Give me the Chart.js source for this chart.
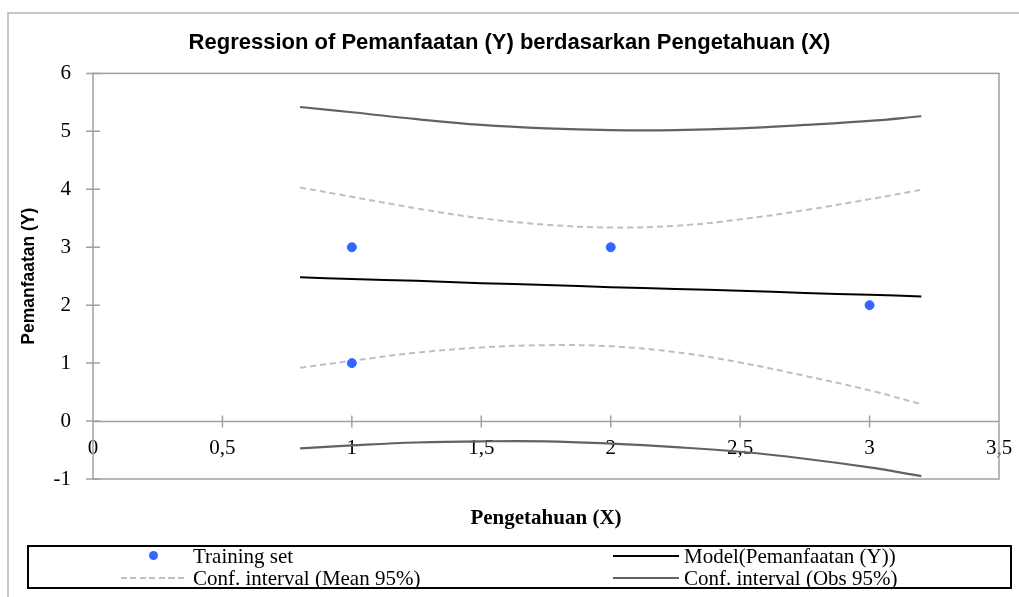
<!DOCTYPE html>
<html>
<head>
<meta charset="utf-8">
<script src="https://cdn.jsdelivr.net/npm/chart.js@4/dist/chart.umd.min.js"></script>
<style>
  body { margin: 0; background: #fff; }
  #wrap { position: relative; width: 1019px; height: 597px; overflow: hidden; }
  #frame { position: absolute; left: 7px; top: 12px; width: 1100px; height: 700px;
    border-left: 2px solid #c8c8c8; border-top: 2px solid #c8c8c8; }
  #legend { position: absolute; left: 27px; top: 545px; width: 981px; height: 40px;
    border: 2px solid #000; font-family: "Liberation Serif", serif; font-size: 21px; color: #000; }
  .item { position: absolute; height: 22px; line-height: 22px; white-space: nowrap; }
  .sym { position: absolute; width: 66px; height: 22px; }
</style>
</head>
<body>
<div id="wrap">
  <div id="frame"></div>
  <canvas id="canRegression"></canvas>
  <div id="legend"></div>
</div>
<script>
const trainX = [1, 1, 2, 3]
const trainY = [3, 1, 3, 2]

const curveX = [0.8, 1, 1.25, 1.5, 1.75, 2, 2.25, 2.5, 2.75, 3, 3.2]
const model = [2.48, 2.45, 2.42, 2.38, 2.35, 2.31, 2.28, 2.25, 2.21, 2.18, 2.15]
const meanHi = [4.03, 3.87, 3.67, 3.5, 3.39, 3.34, 3.37, 3.48, 3.64, 3.83, 3.99]
const meanLo = [0.92, 1.04, 1.18, 1.27, 1.31, 1.29, 1.19, 1.01, 0.78, 0.53, 0.29]
const obsHi = [5.42, 5.33, 5.21, 5.11, 5.05, 5.02, 5.02, 5.05, 5.11, 5.18, 5.26]
const obsLo = [-0.47, -0.42, -0.37, -0.35, -0.35, -0.39, -0.45, -0.53, -0.65, -0.8, -0.95]

const xTicks = [0, 0.5, 1, 1.5, 2, 2.5, 3, 3.5]
const yTicks = [-1, 0, 1, 2, 3, 4, 5, 6]

const pts = (xs, ys) => xs.map((x, i) => ({ x: x, y: ys[i] }))

const blue = '#3366ff'
const meanGrey = '#bfbfbf'
const obsGrey = '#626262'
const axisGrey = '#a0a0a0'

// plot box, zero line and crossing tick marks
const framePlugin = {
  id: 'frame',
  beforeDatasetsDraw (chart) {
    const { ctx, chartArea: a, scales } = chart
    const y0 = Math.round(scales.y.getPixelForValue(0)) + 0.5
    ctx.save()
    ctx.strokeStyle = axisGrey
    ctx.lineWidth = 1.5
    ctx.strokeRect(a.left, a.top, a.right - a.left, a.bottom - a.top)
    ctx.beginPath()
    ctx.moveTo(a.left, y0)
    ctx.lineTo(a.right, y0)
    yTicks.forEach(v => {
      const p = scales.y.getPixelForValue(v)
      ctx.moveTo(a.left - 7, p)
      ctx.lineTo(a.left + 7, p)
    })
    xTicks.forEach(v => {
      if (v === 0 || v === 3.5) return
      const p = scales.x.getPixelForValue(v)
      ctx.moveTo(p, y0 - 6)
      ctx.lineTo(p, y0 + 6)
    })
    ctx.stroke()
    ctx.restore()
  }
}

const cReg = document.getElementById('canRegression')

const chart = new Chart(cReg, {
  type: 'scatter',
  data: {
    datasets: [
      {
        label: 'Training set',
        data: pts(trainX, trainY),
        backgroundColor: blue,
        borderColor: blue,
        pointRadius: 4.5,
        order: 0
      },
      {
        label: 'Model(Pemanfaatan (Y))',
        data: pts(curveX, model),
        showLine: true,
        borderColor: '#000',
        borderWidth: 2,
        pointRadius: 0
      },
      {
        label: 'Conf. interval (Mean 95%)',
        data: pts(curveX, meanHi),
        showLine: true,
        borderColor: meanGrey,
        borderWidth: 2,
        borderDash: [6, 4],
        pointRadius: 0
      },
      {
        label: 'Conf. interval (Mean 95%)',
        data: pts(curveX, meanLo),
        showLine: true,
        borderColor: meanGrey,
        borderWidth: 2,
        borderDash: [6, 4],
        pointRadius: 0,
        hideInLegend: true
      },
      {
        label: 'Conf. interval (Obs 95%)',
        data: pts(curveX, obsHi),
        showLine: true,
        borderColor: obsGrey,
        borderWidth: 2.2,
        pointRadius: 0
      },
      {
        label: 'Conf. interval (Obs 95%)',
        data: pts(curveX, obsLo),
        showLine: true,
        borderColor: obsGrey,
        borderWidth: 2.2,
        pointRadius: 0,
        hideInLegend: true
      }
    ]
  },
  options: {
    responsive: true,
    maintainAspectRatio: false,
    animation: false,
    layout: { padding: 0 },
    elements: { line: { tension: 0.4 } },
    plugins: {
      legend: { display: false },
      tooltip: { enabled: false },
      title: {
        display: true,
        text: 'Regression of Pemanfaatan (Y) berdasarkan Pengetahuan (X)',
        color: '#000',
        font: { family: 'Liberation Sans', size: 22, weight: 'bold' },
        padding: { top: 30, bottom: 17 }
      }
    },
    scales: {
      x: {
        type: 'linear',
        position: 'bottom',
        min: 0,
        max: 3.5,
        grid: { display: false, drawTicks: false },
        border: { display: false },
        ticks: { display: false },
        title: {
          display: true,
          text: 'Pengetahuan (X)',
          color: '#000',
          font: { family: 'Liberation Serif', size: 21, weight: 'bold' },
          padding: { top: 0, bottom: 66 }
        },
        afterFit (scale) {
          scale.height = 118
          scale.paddingLeft = 0
          scale.paddingRight = 20
        }
      },
      x2: {
        type: 'linear',
        axis: 'x',
        position: { y: 0 },
        min: 0,
        max: 3.5,
        grid: { display: false, drawTicks: false },
        border: { display: false },
        afterBuildTicks (scale) { scale.ticks = xTicks.map(v => ({ value: v })) },
        afterFit (scale) {
          scale.paddingLeft = 0
          scale.paddingRight = 20
        },
        ticks: {
          padding: 15,
          color: '#000',
          font: { family: 'Liberation Serif', size: 21 },
          callback: v => String(v).replace('.', ',')
        }
      },
      y: {
        type: 'linear',
        position: 'left',
        min: -1,
        max: 6,
        grid: { display: false, drawTicks: false },
        border: { display: false },
        afterBuildTicks (scale) { scale.ticks = yTicks.map(v => ({ value: v })) },
        ticks: {
          padding: 22,
          color: '#000',
          font: { family: 'Liberation Serif', size: 21 }
        },
        title: {
          display: true,
          text: 'Pemanfaatan (Y)',
          color: '#000',
          font: { family: 'Liberation Sans', size: 17.5, weight: 'bold' },
          padding: { top: 19, bottom: 0 }
        },
        afterFit (scale) { scale.width = 93 }
      }
    }
  },
  plugins: [framePlugin]
})

// html legend, two columns, built from the datasets
const legendEl = document.getElementById('legend')
const items = chart.data.datasets.filter(d => !d.hideInLegend)
const symLeft = [92, 584]
const textLeft = [164, 655]
items.forEach((d, i) => {
  const col = i % 2
  const row = Math.floor(i / 2)
  const top = -2 + row * 22
  const sym = document.createElement('div')
  sym.className = 'sym'
  sym.style.left = symLeft[col] + 'px'
  sym.style.top = top + 'px'
  if (d.showLine) {
    const ln = document.createElement('div')
    ln.style.position = 'absolute'
    ln.style.left = '0'
    ln.style.width = '66px'
    ln.style.top = '10px'
    ln.style.height = '2px'
    ln.style.background = d.borderDash
      ? 'repeating-linear-gradient(to right, ' + d.borderColor + ' 0 6px, transparent 6px 9.5px)'
      : d.borderColor
    sym.appendChild(ln)
  } else {
    const dot = document.createElement('div')
    dot.style.position = 'absolute'
    dot.style.left = '28px'
    dot.style.top = '6px'
    dot.style.width = '9px'
    dot.style.height = '9px'
    dot.style.borderRadius = '50%'
    dot.style.background = d.backgroundColor
    sym.appendChild(dot)
  }
  legendEl.appendChild(sym)
  const txt = document.createElement('div')
  txt.className = 'item'
  txt.style.left = textLeft[col] + 'px'
  txt.style.top = top + 'px'
  txt.textContent = d.label
  legendEl.appendChild(txt)
})
</script>
</body>
</html>
